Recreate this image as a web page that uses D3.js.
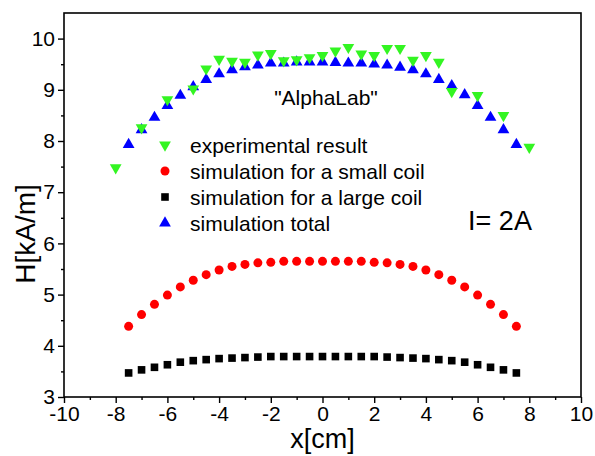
<!DOCTYPE html>
<html>
<head>
<meta charset="utf-8">
<script src="https://d3js.org/d3.v7.min.js"></script>
<style>
  body { margin: 0; background: #fff; }
  text { font-family: "Liberation Sans", Arial, sans-serif; fill: #000; }
</style>
</head>
<body>
<svg width="595" height="456"></svg>
<script>
// positions along the coil axis, cm
var xSim = [-7.5, -7, -6.5, -6, -5.5, -5, -4.5, -4, -3.5, -3, -2.5, -2, -1.5, -1, -0.5, 0,
            0.5, 1, 1.5, 2, 2.5, 3, 3.5, 4, 4.5, 5, 5.5, 6, 6.5, 7, 7.5];
var xExp = [-8, -7, -6, -5, -4.5, -4, -3.5, -3, -2.5, -2, -1.5, -1, -0.5, 0,
            0.5, 1, 1.5, 2, 2.5, 3, 3.5, 4, 4.5, 5, 6, 7, 8];

// H in kA/m
var hExp = [7.48, 8.26, 8.81, 9.02, 9.41, 9.60, 9.56, 9.54, 9.68, 9.71, 9.57, 9.59, 9.63, 9.67,
            9.76, 9.83, 9.70, 9.67, 9.81, 9.81, 9.58, 9.67, 9.54, 8.97, 8.89, 8.50, 7.88];
var hSmall = [4.38, 4.61, 4.81, 4.99, 5.15, 5.28, 5.39, 5.48, 5.55, 5.59, 5.62, 5.63, 5.65, 5.65, 5.65, 5.65,
              5.65, 5.65, 5.65, 5.63, 5.62, 5.59, 5.55, 5.48, 5.39, 5.28, 5.15, 4.99, 4.81, 4.61, 4.38];
var hLarge = [3.47, 3.53, 3.58, 3.63, 3.68, 3.71, 3.73, 3.75, 3.76, 3.77, 3.78, 3.79, 3.79, 3.79, 3.79, 3.79,
              3.79, 3.79, 3.79, 3.79, 3.78, 3.77, 3.76, 3.75, 3.73, 3.71, 3.68, 3.63, 3.58, 3.53, 3.47];
var hTotal = [7.93, 8.22, 8.46, 8.69, 8.89, 9.06, 9.20, 9.31, 9.39, 9.45, 9.48, 9.52, 9.52, 9.54, 9.54, 9.54,
              9.53, 9.52, 9.52, 9.50, 9.48, 9.44, 9.39, 9.31, 9.20, 9.08, 8.90, 8.69, 8.46, 8.22, 7.93];

var legendLabels = ["experimental result", "simulation for a small coil",
                    "simulation for a large coil", "simulation total"];
var xTicks = [-10, -8, -6, -4, -2, 0, 2, 4, 6, 8, 10];
var yTicks = [3, 4, 5, 6, 7, 8, 9, 10];

var svg = d3.select("svg");
var pLeft = 64, pRight = 581, pTop = 13, pBottom = 397;

var x = d3.scaleLinear().domain([-10, 10]).range([pLeft, pRight]);
var y = d3.scaleLinear().domain([3, 10.5]).range([pBottom, pTop]);

var green = "#33f522", red = "#ff0000", blue = "#0000ff";

// frame
svg.append("rect")
  .attr("x", pLeft).attr("y", pTop)
  .attr("width", pRight - pLeft).attr("height", pBottom - pTop)
  .attr("fill", "none").attr("stroke", "#000").attr("stroke-width", 1.6);

// minor ticks
var xMinor = d3.range(-9, 10, 2);
var yMinor = d3.range(3.5, 10.5, 1);
svg.append("g").attr("transform", "translate(0," + pBottom + ")")
  .call(d3.axisBottom(x).tickValues(xMinor).tickSize(3).tickFormat("").tickSizeOuter(0))
  .call(function(g) { g.select(".domain").remove(); });
svg.append("g").attr("transform", "translate(" + pLeft + ",0)")
  .call(d3.axisLeft(y).tickValues(yMinor).tickSize(3).tickFormat("").tickSizeOuter(0))
  .call(function(g) { g.select(".domain").remove(); });

// major ticks + labels (plain hyphen minus like the original)
var fmt = function(d) { return String(d); };
var xAxis = svg.append("g").attr("transform", "translate(0," + pBottom + ")")
  .call(d3.axisBottom(x).tickValues(xTicks).tickFormat(fmt).tickSize(6).tickPadding(3).tickSizeOuter(0));
var yAxis = svg.append("g").attr("transform", "translate(" + pLeft + ",0)")
  .call(d3.axisLeft(y).tickValues(yTicks).tickFormat(fmt).tickSize(6).tickPadding(3).tickSizeOuter(0));
[xAxis, yAxis].forEach(function(g) {
  g.select(".domain").remove();
  g.selectAll("text").attr("font-size", 21).attr("font-family", "Liberation Sans, Arial, sans-serif");
});
svg.selectAll("g line").attr("stroke-width", 1.4);

// axis titles
svg.append("text").attr("x", (pLeft + pRight) / 2).attr("y", 448)
  .attr("text-anchor", "middle").attr("font-size", 27).text("x[cm]");
svg.append("text").attr("transform", "translate(35,234) rotate(-90)")
  .attr("text-anchor", "middle").attr("font-size", 28).text("H[kA/m]");

// series
var tri = d3.symbol().type(d3.symbolTriangle).size(60);

svg.append("g").selectAll("rect").data(xSim).join("rect")
  .attr("x", function(d) { return x(d) - 3.8; })
  .attr("y", function(d, i) { return y(hLarge[i]) - 3.8; })
  .attr("width", 7.6).attr("height", 7.6).attr("fill", "#000");

svg.append("g").selectAll("circle").data(xSim).join("circle")
  .attr("cx", function(d) { return x(d); })
  .attr("cy", function(d, i) { return y(hSmall[i]); })
  .attr("r", 4.5).attr("fill", red);

svg.append("g").selectAll("path").data(xSim).join("path")
  .attr("d", tri)
  .attr("transform", function(d, i) { return "translate(" + x(d) + "," + y(hTotal[i]) + ")"; })
  .attr("fill", blue);

svg.append("g").selectAll("path").data(xExp).join("path")
  .attr("d", tri)
  .attr("transform", function(d, i) { return "translate(" + x(d) + "," + y(hExp[i]) + ") rotate(180)"; })
  .attr("fill", green);

// legend
var legY = [145, 171, 197, 223];
var lx = 165;
svg.append("path").attr("d", tri).attr("fill", green)
  .attr("transform", "translate(" + lx + "," + legY[0] + ") rotate(180)");
svg.append("circle").attr("cx", lx).attr("cy", legY[1]).attr("r", 4.5).attr("fill", red);
svg.append("rect").attr("x", lx - 3.8).attr("y", legY[2] - 3.8).attr("width", 7.6).attr("height", 7.6).attr("fill", "#000");
svg.append("path").attr("d", tri).attr("fill", blue)
  .attr("transform", "translate(" + lx + "," + legY[3] + ")");

svg.append("g").selectAll("text").data(legendLabels).join("text")
  .attr("x", 190).attr("y", function(d, i) { return legY[i]; })
  .attr("dy", "0.36em").attr("font-size", 21).text(function(d) { return d; });

svg.append("text").attr("x", 326).attr("y", 97).attr("dy", "0.36em")
  .attr("text-anchor", "middle").attr("font-size", 21).text("\"AlphaLab\"");
svg.append("text").attr("x", 500).attr("y", 220).attr("dy", "0.36em")
  .attr("text-anchor", "middle").attr("font-size", 27).text("I= 2A");
</script>
</body>
</html>
